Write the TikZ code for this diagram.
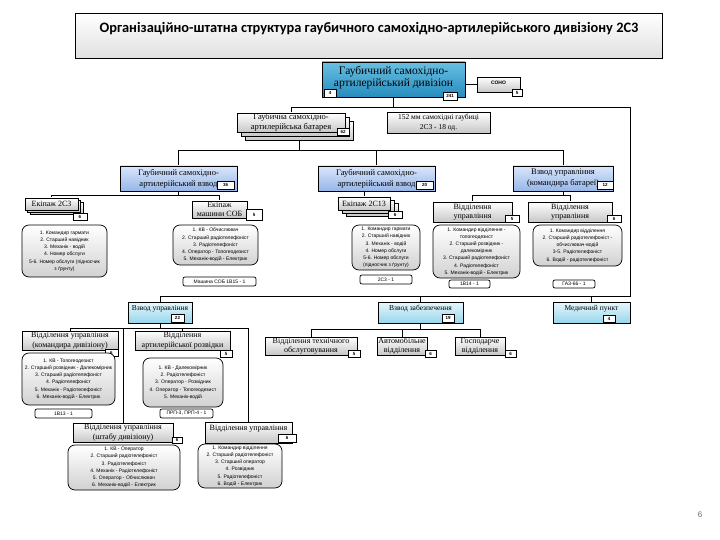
\documentclass[tikz,border=0pt]{standalone}
\usepackage{fontspec}
\setmainfont{Liberation Serif}
\setsansfont{Liberation Sans}
\newfontfamily\titlefont{Carlito}
\definecolor{divtop}{RGB}{105,192,226}
\definecolor{divbot}{RGB}{38,140,190}
\definecolor{pltop}{RGB}{218,230,250}
\definecolor{plbot}{RGB}{150,182,232}
\definecolor{cytop}{RGB}{232,247,252}
\definecolor{cybot}{RGB}{150,214,236}
\pgfdeclarelayer{bg}
\pgfsetlayers{bg,main}
\tikzset{
  base/.style={draw=black, line width=0.6pt, inner sep=0pt, align=center, font=\fontsize{8}{9.5}\selectfont},
  gbox/.style={base, top color=white, bottom color=black!22},
  bluebox/.style={base, top color=pltop, bottom color=plbot, font=\fontsize{8.5}{11}\selectfont},
  cyanbox/.style={base, top color=cytop, bottom color=cybot, font=\fontsize{7.5}{9}\selectfont},
  divbox/.style={base, top color=divtop, bottom color=divbot, font=\fontsize{11.5}{12}\selectfont},
  numbox/.style={draw=black, line width=0.6pt, fill=white, inner sep=0pt, font=\sffamily\bfseries\fontsize{4.5}{5}\selectfont},
  lst/.style={draw=black, line width=0.7pt, rounded corners=7pt, top color=white, bottom color=black!18, inner sep=0pt, align=center, font=\sffamily\fontsize{5}{7.2}\selectfont},
  tag/.style={draw=black, line width=0.7pt, rounded corners=2pt, fill=white, inner sep=0pt, font=\sffamily\fontsize{5}{6}\selectfont},
  link/.style={draw=black, line width=0.7pt},
}
\newcommand{\mkbox}[7]{%
  \pgfmathsetmacro\myw{#5-#3}\pgfmathsetmacro\myh{#6-#4}%
  \pgfmathsetmacro\myx{(#3+#5)/2}\pgfmathsetmacro\myy{(#4+#6)/2}%
  \node[#1, minimum width=\myw pt, minimum height=\myh pt] (#2) at (\myx,\myy) {#7};}
\begin{document}
\begin{tikzpicture}[x=1pt,y=-1pt]
\begin{pgfonlayer}{bg}
\path[use as bounding box, fill=white] (0,0) rectangle (720,540);
\end{pgfonlayer}
% title
\mkbox{draw=black, line width=0.7pt, top color=white, bottom color=black!12, inner sep=0pt}{title}{75}{13}{662}{58}{}
\node[font=\titlefont\bfseries\fontsize{14.4}{16}\selectfont] (titletext) at (369,29) {Організаційно-штатна структура гаубичного самохідно-артилерійського дивізіону 2С3};
% division
\mkbox{divbox}{div}{322}{62}{465}{97}{Гаубичний самохідно-\\артилерійський дивізіон\\[-6pt]\mbox{}}
\mkbox{numbox}{ndiv}{324}{89}{336}{97}{4}
\mkbox{numbox}{ndivb}{443}{92}{457}{100}{241}
\mkbox{gbox, font=\sffamily\bfseries\fontsize{5}{6}\selectfont}{sono}{477}{77}{520}{92}{СОНО\\[-2pt]\mbox{}}
\mkbox{numbox}{nsono}{512}{89}{522}{96}{5}
% battery
\mkbox{gbox}{bat3}{245}{121}{353}{140}{}
\mkbox{gbox}{bat2}{241}{117}{349}{136}{}
\mkbox{gbox, font=\fontsize{8.5}{10}\selectfont}{bat1}{237}{113}{345}{132}{Гаубична самохідно-\\артилерійська батарея}
\mkbox{numbox}{nbat}{337}{128}{349}{135}{62}
\mkbox{gbox, font=\fontsize{7.5}{10}\selectfont}{gau}{387}{112}{490}{133}{152 мм самохідні гаубиці\\2С3 - 18 од.}
% platoons
\mkbox{bluebox}{p1}{120}{166}{237}{191}{Гаубичний самохідно-\\артилерійський взвод}
\mkbox{numbox}{np1}{217}{181}{234}{189}{36}
\mkbox{bluebox}{p2}{318}{166}{435}{191}{Гаубичний самохідно-\\артилерійський взвод}
\mkbox{numbox}{np2}{416}{181}{433}{189}{20}
\mkbox{bluebox}{p3}{513}{166}{613}{191}{Взвод управління\\(командира батареї)}
\mkbox{numbox}{np3}{597}{181}{613}{189}{12}
% crews
\mkbox{gbox}{e1c}{30}{202}{83}{214}{}
\mkbox{gbox}{e1b}{27.5}{200}{80.5}{212}{}
\mkbox{gbox}{e1}{25}{198}{78}{210}{Екіпаж 2С3}
\mkbox{numbox}{ne1}{73}{213}{87}{220}{6}
\mkbox{gbox}{es}{192}{201}{247}{218}{Екіпаж\\машини СОБ}
\mkbox{numbox}{nes}{246}{209}{262}{220}{5}
\mkbox{gbox}{e2c}{346}{203}{398}{216}{}
\mkbox{gbox}{e2b}{342}{200}{394}{213}{}
\mkbox{gbox}{e2}{338}{197}{390}{210}{Екіпаж 2С13}
\mkbox{numbox}{ne2}{388}{211}{402}{218}{6}
\mkbox{gbox}{va}{433}{202}{512}{222}{Відділення\\управління}
\mkbox{numbox}{nva}{505}{215}{519}{222}{5}
\mkbox{gbox}{vb}{528}{202}{612}{222}{Відділення\\управління}
\mkbox{numbox}{nvb}{607}{215}{621}{222}{6}
% lists upper
\mkbox{lst}{l1}{22}{225}{107}{277}{1. Командир гармати\\2. Старший навідник\\3. Механік - водій\\4. Номер обслуги\\5-6. Номер обслуги (підносчик\\з ґрунту)}
\mkbox{lst}{l2}{173}{225}{258}{265}{1. КВ - Обчислювач\\2. Старший радіотелефоніст\\3. Радіотелефоніст\\4. Оператор - Топогеодезист\\5. Механік-водій - Електрик}
\mkbox{tag}{t2}{183}{277}{256}{286}{Машина СОБ 1В15 - 1}
\mkbox{lst}{l3}{352}{225}{420}{270}{1. Командир гармати\\2. Старший навідник\\3. Механік - водій\\4. Номер обслуги\\5-6. Номер обслуги\\(підносчик з ґрунту)}
\mkbox{tag}{t3}{360}{275}{412}{284}{2С3 - 1}
\mkbox{lst}{l4}{433}{225}{520}{278}{1. Командир відділення -\\топогеодезист\\2. Старший розвідник -\\далекомірник\\3. Старший радіотелефоніст\\4. Радіотелефоніст\\5. Механік-водій - Електрик}
\mkbox{tag}{t4}{449}{280}{490}{288}{1В14 - 1}
\mkbox{lst}{l5}{533}{225}{622}{266}{1. Командир відділення\\2. Старший радіотелефоніст -\\обчислювач-водій\\3-5. Радіотелефоніст\\6. Водій - радіотелефоніст}
\mkbox{tag}{t5}{553}{280}{595}{288}{ГАЗ-66 - 1}
% lower platoons
\mkbox{cyanbox}{vu}{128}{302}{192}{323}{Взвод управління\\\mbox{}}
\mkbox{numbox}{nvu}{171}{314}{184}{322}{22}
\mkbox{cyanbox}{vz}{378}{302}{463}{323}{Взвод забезпечення\\\mbox{}}
\mkbox{numbox}{nvz}{442}{314}{454}{322}{19}
\mkbox{cyanbox}{mp}{553}{302}{630}{323}{Медичний пункт\\\mbox{}}
\mkbox{numbox}{nmp}{603}{315}{615}{322}{4}
% lower sections
\mkbox{gbox}{b1}{22}{331}{118}{350}{Відділення управління\\(командира дивізіону)}
\mkbox{numbox}{nb1}{105}{349}{118}{356}{6}
\mkbox{gbox}{b2}{135}{331}{230}{350}{Відділення\\артилерійської розвідки}
\mkbox{numbox}{nb2}{220}{350}{232}{357}{5}
\mkbox{lst}{lb1}{22}{353}{115}{405}{1. КВ - Топогеодезист\\2. Старший розвідник - Далекомірник\\3. Старший радіотелефоніст\\4. Радіотелефоніст\\5. Механік - Радіотелефоніст\\6. Механік-водій - Електрик}
\mkbox{tag}{tb1}{35}{409}{92}{418}{1В13 - 1}
\mkbox{lst}{lb2}{143}{358}{223}{407}{1. КВ - Далекомірник\\2. Радіотелефоніст\\3. Оператор - Розвідник\\4. Оператор - Топогеодезист\\5. Механік-водій}
\mkbox{tag}{tb2}{160}{409}{213}{418}{ПРП-3, ПРП-4 - 1}
\mkbox{gbox}{b3}{73}{423}{173}{442}{Відділення управління\\(штабу дивізіону)}
\mkbox{numbox}{nb3}{172}{437}{182}{443}{6}
\mkbox{lst}{lb3}{68}{445}{180}{490}{1. КВ - Оператор\\2. Старший радіотелефоніст\\3. Радіотелефоніст\\4. Механік - Радіотелефоніст\\5. Оператор - Обчислювач\\6. Механік-водій - Електрик}
\mkbox{gbox}{b4}{205}{422}{292}{443}{Відділення управління\\\mbox{}}
\mkbox{numbox}{nb4}{278}{434}{296}{442}{6}
\mkbox{lst}{lb4}{198}{444}{282}{488}{1. Командир відділення\\2. Старший радіотелефоніст\\3. Старший оператор\\4. Розвідник\\5. Радіотелефоніст\\6. Водій - Електрик}
\mkbox{gbox}{s1}{265}{337}{357}{355}{Відділення технічного\\обслуговування}
\mkbox{numbox}{ns1}{348}{350}{360}{357}{5}
\mkbox{gbox}{s2}{377}{337}{427}{355}{Автомобільне\\відділення}
\mkbox{numbox}{ns2}{425}{350}{436}{357}{6}
\mkbox{gbox}{s3}{455}{337}{505}{355}{Господарче\\відділення}
\mkbox{numbox}{ns3}{505}{350}{516}{357}{6}
\node[font=\sffamily\fontsize{8}{8}\selectfont, text=black!60] (pg) at (700,515) {6};
% connectors
\coordinate (tr) at (630,107);
\coordinate (br) at (630,296);
\coordinate (h1) at (0,150);
\coordinate (h2) at (0,195);
\coordinate (h4) at (0,328);
\coordinate (h5) at (0,329);
\begin{pgfonlayer}{bg}
\draw[link] (div.east |- sono.west) -- (sono.west);
\draw[link] (div.south) -- (div.south |- tr);
\draw[link] (bat1.north) |- (tr) -- (br) -| (vu.north);
\draw[link] (vz.north) -- (vz.north |- br);
\draw[link] (mp.north) -- (mp.north |- br);
\draw[link] (bat3.south) -- (bat3.south |- h1);
\draw[link] (p1.north) |- (h1 -| p3.north) -- (p3.north);
\draw[link] (p2.north) -- (p2.north |- h1);
\draw[link] (p1.south) -- (p1.south |- h2);
\draw[link] (e1.north) |- (h2 -| es.north) -- (es.north);
\draw[link] (e2.north) -- (e2.north |- p2.south);
\draw[link] (p3.south) -- (p3.south |- h2);
\draw[link] (va.north) |- (h2 -| vb.north) -- (vb.north);
\draw[link] (vu.south) -- (vu.south |- h4);
\draw[link] (b1.north) |- (h4 -| b4.north) -- (b4.north);
\draw[link] (b2.north) -- (b2.north |- h4);
\draw[link] (b3.north) -- (b3.north |- h4);
\draw[link] (vz.south) -- (vz.south |- h5);
\draw[link] (s1.north) |- (h5 -| s3.north) -- (s3.north);
\draw[link] (s2.north) -- (s2.north |- h5);
\end{pgfonlayer}
\end{tikzpicture}
\end{document}
